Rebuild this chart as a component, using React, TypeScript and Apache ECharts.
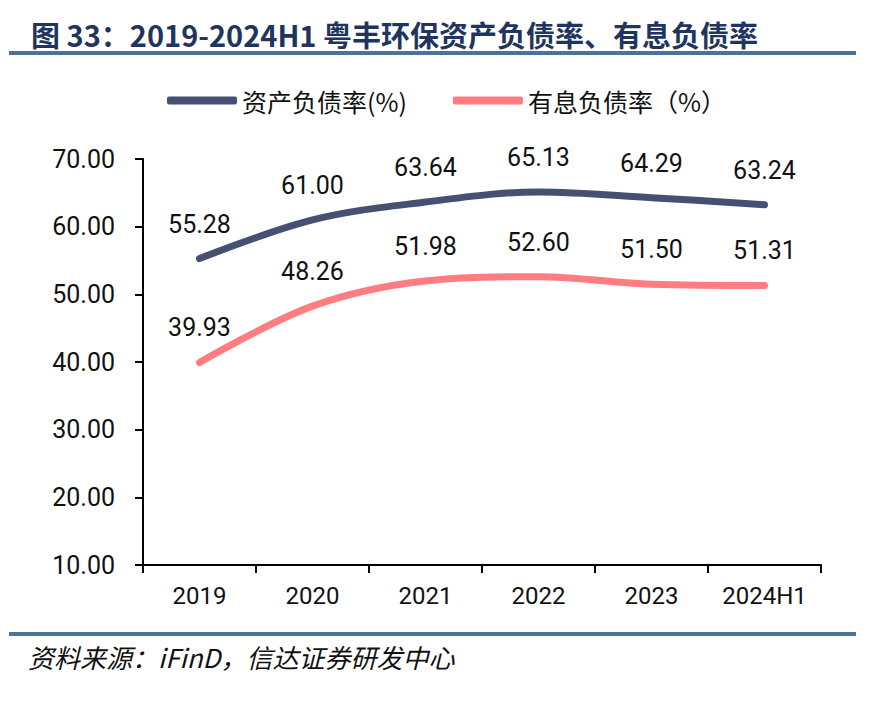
import React, { useEffect, useRef } from "react";
import * as echarts from "echarts";

const categories = ["2019", "2020", "2021", "2022", "2023", "2024H1"];
const assetLiabilityRatio = [55.28, 61.0, 63.64, 65.13, 64.29, 63.24];
const interestLiabilityRatio = [39.93, 48.26, 51.98, 52.6, 51.5, 51.31];
const seriesNames = ["资产负债率(%)", "有息负债率（%）"];
const titleText = "图 33：2019-2024H1 粤丰环保资产负债率、有息负债率";
const sourceText = "资料来源：iFinD，信达证券研发中心";

export default function App() {
  const ref = useRef<HTMLDivElement>(null);
  useEffect(() => {
    if (!ref.current) return;
    const chart = echarts.init(ref.current, null, { renderer: "svg" });
    const font = "Roboto, 'Noto Sans CJK SC', sans-serif";
    const cjk = "'Noto Sans CJK SC', sans-serif";
    const labelCfg = {
      show: true,
      position: "top",
      distance: 22,
      fontSize: 25,
      color: "#111111",
      fontFamily: font,
      formatter: (p: any) => Number(p.value).toFixed(2),
    };
    chart.setOption({
      animation: false,
      backgroundColor: "#ffffff",
      textStyle: { fontFamily: font },
      graphic: [
        {
          type: "text",
          left: 31,
          top: 19,
          style: {
            text: titleText,
            fontSize: 29,
            fontWeight: "bold",
            fill: "#1F3560",
            fontFamily: cjk,
          },
        },
        {
          type: "rect",
          shape: { x: 9, y: 51, width: 847, height: 4 },
          style: { fill: "#4F7098" },
        },
        {
          type: "rect",
          shape: { x: 9, y: 632, width: 847, height: 4 },
          style: { fill: "#4F7098" },
        },
        {
          type: "text",
          left: 28,
          top: 643,
          style: {
            text: sourceText,
            fontSize: 26,
            fontStyle: "italic",
            fill: "#111111",
            fontFamily: cjk,
          },
        },
      ],
      legend: {
        left: 162,
        top: 83,
        itemWidth: 70,
        itemHeight: 8,
        itemGap: 46,
        icon: "roundRect",
        textStyle: { fontSize: 25, color: "#111111", fontFamily: cjk },
        data: seriesNames,
      },
      grid: { left: 143, right: 62, top: 159, bottom: 140 },
      xAxis: {
        type: "category",
        data: categories,
        boundaryGap: true,
        axisLine: { lineStyle: { color: "#000000", width: 2 } },
        axisTick: { show: true, interval: 0, length: 8, lineStyle: { color: "#000000", width: 2 } },
        axisLabel: { interval: 0, fontSize: 24, color: "#111111", margin: 19, fontFamily: font },
      },
      yAxis: {
        type: "value",
        min: 10,
        max: 70,
        interval: 10,
        axisLine: { show: true, lineStyle: { color: "#000000", width: 2 } },
        axisTick: { show: true, length: 8, lineStyle: { color: "#000000", width: 2 } },
        splitLine: { show: false },
        axisLabel: {
          fontSize: 25,
          color: "#111111",
          margin: 28,
          fontFamily: font,
          formatter: (v: number) => v.toFixed(2),
        },
      },
      series: [
        {
          name: seriesNames[0],
          type: "line",
          smooth: 0.35,
          symbol: "circle",
          symbolSize: 0,
          showSymbol: true,
          data: assetLiabilityRatio,
          lineStyle: { color: "#465171", width: 7, cap: "round" },
          itemStyle: { color: "#465171" },
          label: labelCfg,
        },
        {
          name: seriesNames[1],
          type: "line",
          smooth: 0.35,
          symbol: "circle",
          symbolSize: 0,
          showSymbol: true,
          data: interestLiabilityRatio,
          lineStyle: { color: "#FF7C80", width: 7, cap: "round" },
          itemStyle: { color: "#FF7C80" },
          label: labelCfg,
        },
      ],
    });
    return () => chart.dispose();
  }, []);
  return (
    <div
      ref={ref}
      style={{ position: "fixed", left: 0, top: 0, width: 883, height: 705, background: "#fff" }}
    />
  );
}
